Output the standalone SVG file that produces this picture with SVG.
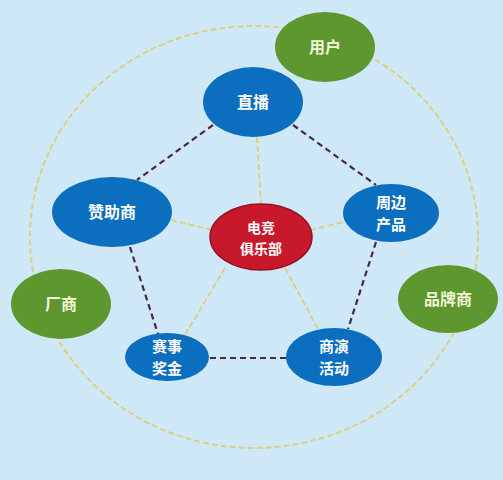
<svg xmlns="http://www.w3.org/2000/svg" width="503" height="480" viewBox="0 0 503 480">
<style>
.blue{fill:#0b6ebf;}
.green{fill:#5e962f;}
.red{fill:#c8182b;stroke:#9a1020;stroke-width:1.5;}
.t{font-family:"Noto Sans CJK SC","Noto Sans",sans-serif;font-weight:bold;fill:#ffffff;text-anchor:middle;font-size:16px;}
.t2{font-size:15px;}
.tg{fill:#f3f7d8;}
.dk{stroke:#4a2650;stroke-width:2.2;stroke-dasharray:6,4;fill:none;}
.yl{stroke:#dccf80;stroke-width:2;stroke-dasharray:6,3;fill:none;}
</style>
<rect width="503" height="480" fill="#cfe8f8"/>
<g id="connectors">
<ellipse cx="254" cy="237" rx="224" ry="211" class="yl"/>
<line x1="213" y1="125" x2="137" y2="180" class="dk"/>
<line x1="293" y1="125" x2="376" y2="185" class="dk"/>
<line x1="130" y1="247" x2="158" y2="334" class="dk"/>
<line x1="376" y1="242" x2="348" y2="329" class="dk"/>
<line x1="210" y1="358" x2="286" y2="358" class="dk"/>
<line x1="257" y1="137" x2="261" y2="205" class="yl"/>
<line x1="171" y1="220" x2="212" y2="230" class="yl"/>
<line x1="310" y1="230" x2="344" y2="222" class="yl"/>
<line x1="225" y1="268" x2="185" y2="335" class="yl"/>
<line x1="285" y1="268" x2="318" y2="329" class="yl"/>
</g>
<g id="yonghu"><ellipse cx="325" cy="47" rx="50" ry="35" class="green"/><text x="325" y="53" class="t tg">用户</text></g>
<g id="zhibo"><ellipse cx="253" cy="102" rx="50" ry="35" class="blue"/><text x="253" y="108" class="t">直播</text></g>
<g id="zanzhushang"><ellipse cx="112" cy="212" rx="60" ry="35" class="blue"/><text x="112" y="218" class="t">赞助商</text></g>
<g id="zhoubian"><ellipse cx="391" cy="213" rx="48" ry="29" class="blue"/><text class="t t2"><tspan x="391" y="208">周边</tspan><tspan x="391" y="230">产品</tspan></text></g>
<g id="club"><ellipse cx="261" cy="237" rx="51" ry="33" class="red"/><text class="t" style="font-size:14px"><tspan x="261" y="233">电竞</tspan><tspan x="261" y="254">俱乐部</tspan></text></g>
<g id="changshang"><ellipse cx="61" cy="304" rx="50" ry="35" class="green"/><text x="61" y="310" class="t tg">厂商</text></g>
<g id="pinpaishang"><ellipse cx="448" cy="299" rx="50" ry="34" class="green"/><text x="448" y="305" class="t tg">品牌商</text></g>
<g id="saishi"><ellipse cx="167" cy="357" rx="42" ry="24" class="blue"/><text class="t t2"><tspan x="167" y="352">赛事</tspan><tspan x="167" y="374">奖金</tspan></text></g>
<g id="shangyan"><ellipse cx="334" cy="357" rx="48" ry="29" class="blue"/><text class="t t2"><tspan x="334" y="352">商演</tspan><tspan x="334" y="374">活动</tspan></text></g>
</svg>
